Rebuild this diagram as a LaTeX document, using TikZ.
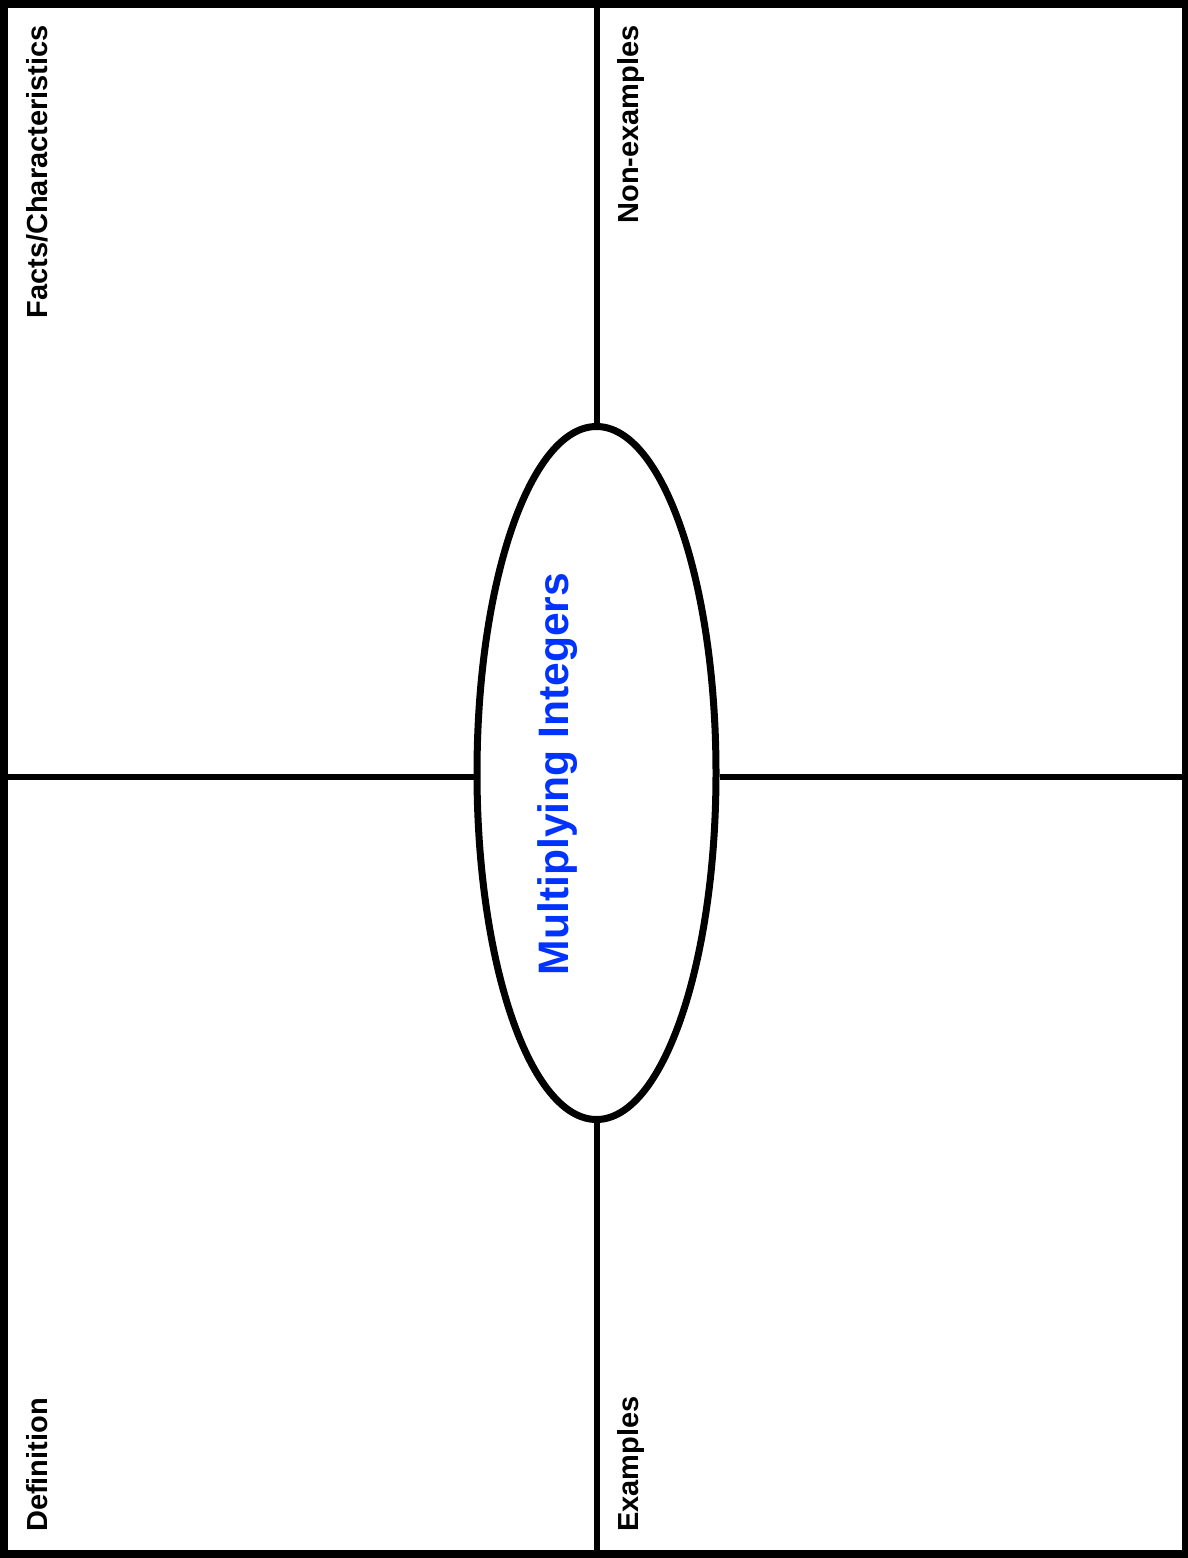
\documentclass[tikz,border=0pt]{standalone}
\usepackage{fontspec}
\setmainfont{Liberation Sans}
\usetikzlibrary{shapes.geometric,calc}
\definecolor{topic-blue}{RGB}{0,51,255}

\begin{document}
\begin{tikzpicture}[x=1pt, y=-1pt,
	   lbl/.style={rotate=90, inner sep=0pt, font=\fontsize{29}{34}\selectfont\bfseries},
	   sep/.style={line width=6pt}]
	  \useasboundingbox (0,0) rectangle (1187,1558);
	  \node[draw, line width=8pt, inner sep=0pt, minimum width=1182pt, minimum height=1550pt] (F) at (595,778.5) {};
	  \node[ellipse, draw, fill=white, line width=7pt, inner sep=0pt, minimum width=239pt, minimum height=693pt] (T) at (596.5,773) {};
	  % quadrant lines, ellipse on top
	  \draw[sep] (T.north |- F.north) -- (T.north);
	  \draw[sep] (T.south) -- (T.south |- F.south);
	  \draw[sep] (F.west |- 0,776.5) -- (T.west |- 0,776.5);
	  \draw[sep] (T.east |- 0,776.5) -- (F.east |- 0,776.5);
	  \node[rotate=90, anchor=base, inner sep=0pt, text=topic-blue, font=\fontsize{42.6}{50}\selectfont\bfseries] (M) at (568,774) {Multiplying Integers};
	  \node[lbl, anchor=base east] (FC) at (47.5,25) {Facts/Characteristics};
	  \node[lbl, anchor=base east] (NE) at (638,25) {Non-examples};
	  \node[lbl, anchor=base west] (D) at (47.5,1532) {Definition};
	  \node[lbl, anchor=base west] (E) at (638,1532) {Examples};
	\end{tikzpicture}
\end{document}
